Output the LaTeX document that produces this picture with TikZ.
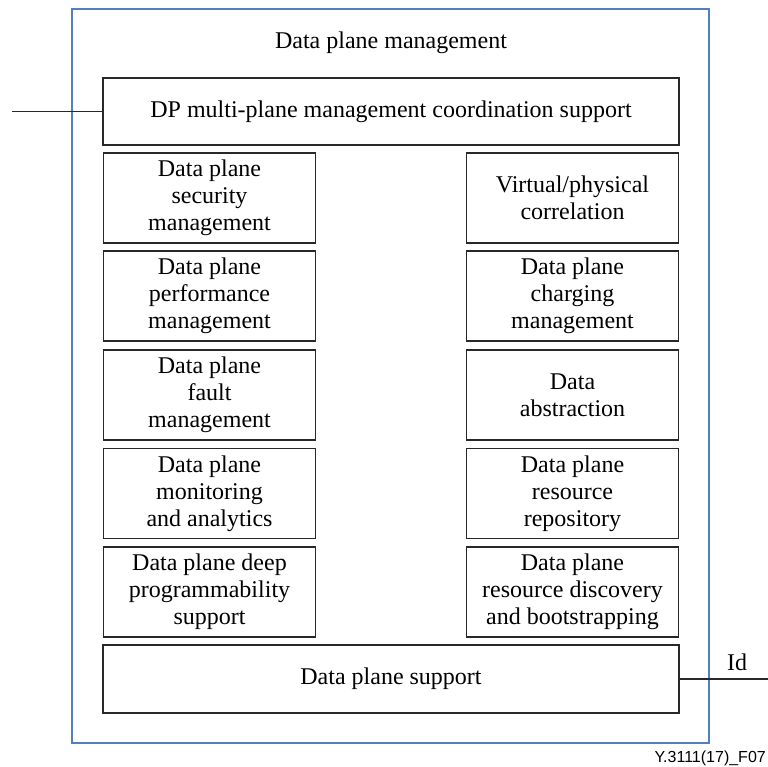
\documentclass[tikz,border=0pt]{standalone}
\usepackage{fontspec}
\setmainfont{Liberation Serif}
\newfontfamily\captionfont{Liberation Sans}
\definecolor{frameblue}{RGB}{79,129,189}
\definecolor{boxgray}{RGB}{40,40,40}
\begin{document}
\begin{tikzpicture}[x=1pt,y=-1pt,
  txt/.style={font=\fontsize{24}{27}\selectfont},
  fnbox/.style={txt,draw=boxgray,line width=1.8pt,inner sep=0pt,align=center},
  colbox/.style={fnbox,minimum width=212pt,minimum height=90pt},
  widebox/.style={fnbox,minimum width=576pt},
  link/.style={draw=boxgray,line width=1.6pt}]
\path[use as bounding box,clip] (0,0) rectangle (768,767);

% enclosing data plane management block
\node[draw=frameblue,line width=2pt,minimum width=637pt,minimum height=733pt,inner sep=0pt]
  (dpm) at (390.5,376) {};
\node[txt] (title) at (391,43) {Data plane management};

% coordination support across planes
\node[widebox,minimum height=67pt] (coord) at (391,111.5) {DP multi-plane management coordination support};

% left column
\node[colbox] (sec)  at (209.5,198) {Data plane\\security\\management};
\node[colbox] (perf) at (209.5,296) {Data plane\\performance\\management};
\node[colbox] (fault) at (209.5,395) {Data plane\\fault\\management};
\node[colbox] (mon)  at (209.5,493.5) {Data plane\\monitoring\\and analytics};
\node[colbox] (prog) at (209.5,592) {Data plane deep\\programmability\\support};

% right column
\node[colbox] (corr) at (572.5,198) {Virtual/physical\\correlation};
\node[colbox] (charg) at (572.5,296) {Data plane\\charging\\management};
\node[colbox] (abs)  at (572.5,395) {Data\\abstraction};
\node[colbox] (repo) at (572.5,493.5) {Data plane\\resource\\repository};
\node[colbox] (disc) at (572.5,592) {Data plane\\resource discovery\\and bootstrapping};

% data plane support
\node[widebox,minimum height=68pt] (sup) at (391,679) {Data plane support};

% external reference points
\coordinate (west) at (12,111.5);
\coordinate (east) at (770,679);
\draw[link] (west) -- (coord.west);
\draw[link] (sup.east) -- (east);
\node[txt] (id) at (737,662) {Id};

\node[font=\captionfont\fontsize{16}{18}\selectfont,anchor=east,inner sep=0pt] (fig) at (766,758) {Y.3111(17)\_F07};
\end{tikzpicture}
\end{document}
